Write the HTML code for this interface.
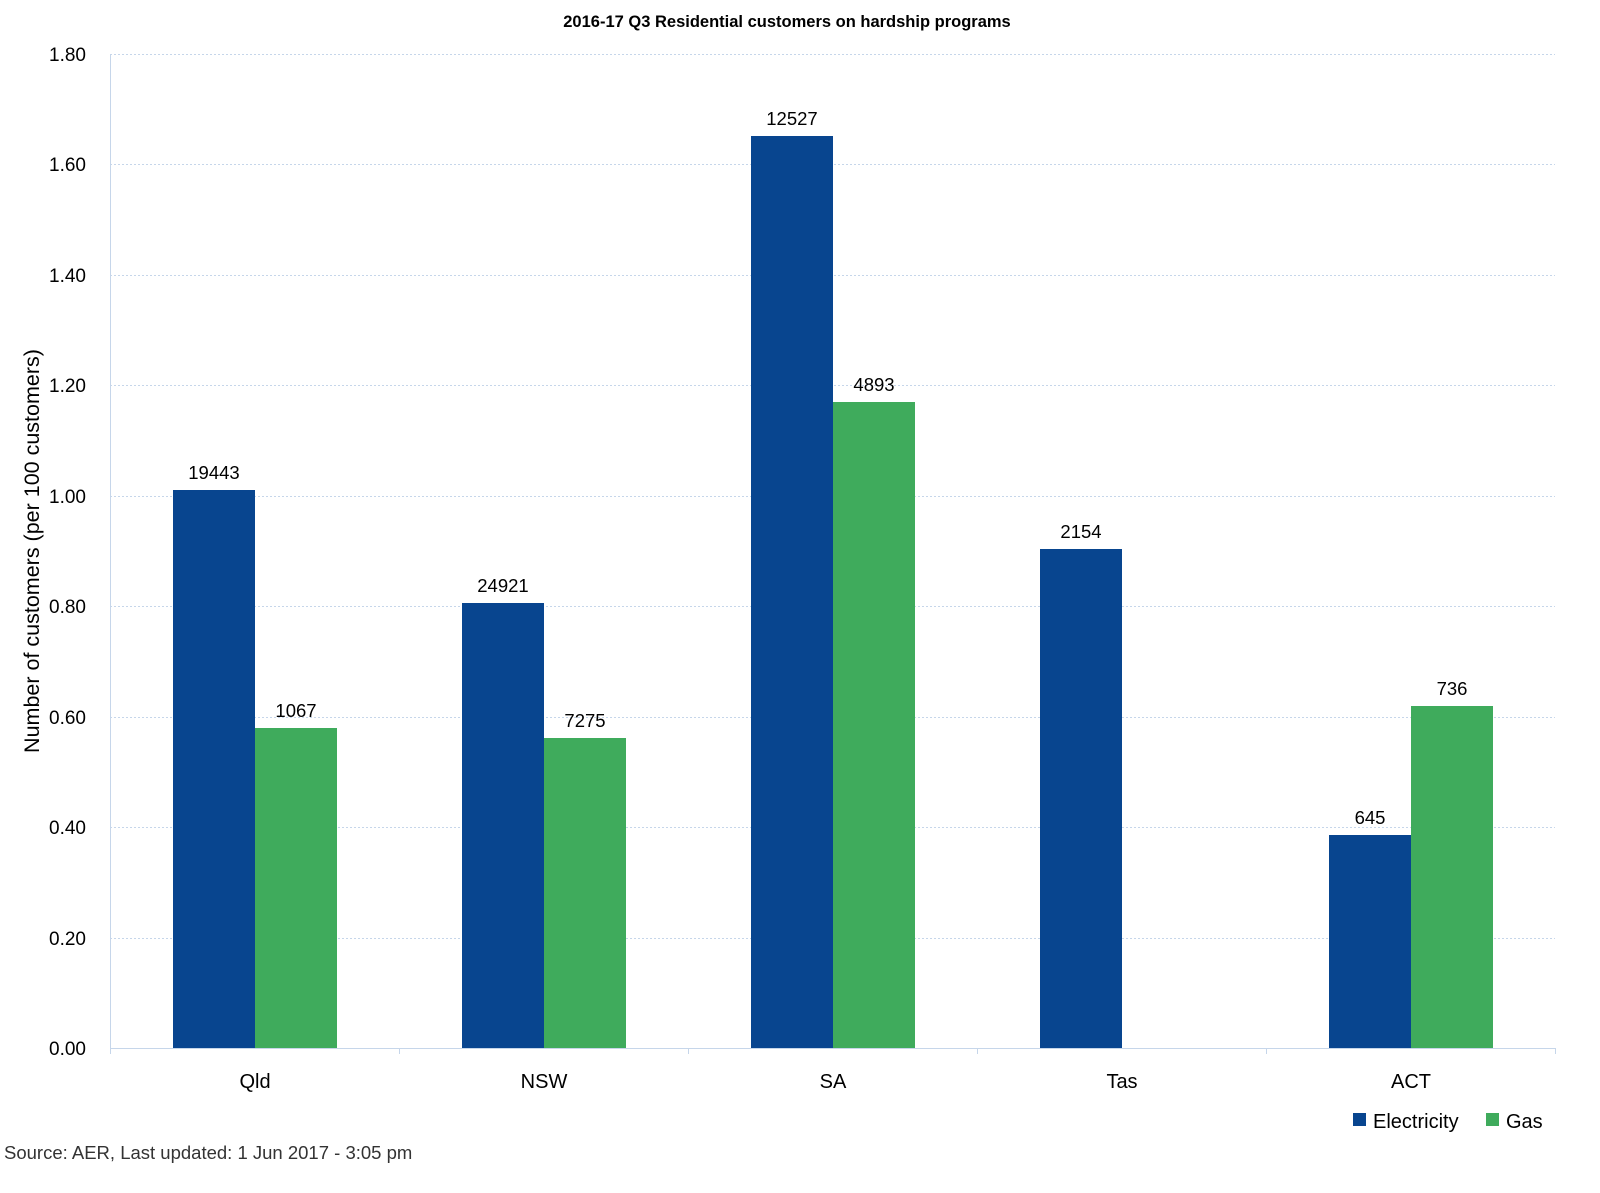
<!DOCTYPE html>
<html><head><meta charset="utf-8"><style>
html,body{margin:0;padding:0;background:#fff;}
text{font-family:"Liberation Sans",sans-serif;fill:#000;}
</style></head><body>
<svg width="1600" height="1188" xmlns="http://www.w3.org/2000/svg">
<text x="787" y="27" text-anchor="middle" font-size="16.5" font-weight="bold">2016-17 Q3 Residential customers on hardship programs</text>
<g stroke="#c6d6ea" stroke-width="1" stroke-dasharray="2,2">
<line x1="110" x2="1555" y1="54.5" y2="54.5"/>
<line x1="110" x2="1555" y1="164.5" y2="164.5"/>
<line x1="110" x2="1555" y1="275.5" y2="275.5"/>
<line x1="110" x2="1555" y1="385.5" y2="385.5"/>
<line x1="110" x2="1555" y1="496.5" y2="496.5"/>
<line x1="110" x2="1555" y1="606.5" y2="606.5"/>
<line x1="110" x2="1555" y1="717.5" y2="717.5"/>
<line x1="110" x2="1555" y1="827.5" y2="827.5"/>
<line x1="110" x2="1555" y1="938.5" y2="938.5"/>
</g>
<g stroke="#c6d6ea" stroke-width="1">
<line x1="110.5" x2="110.5" y1="54" y2="1054"/>
<line x1="110" x2="1555" y1="1048.5" y2="1048.5"/>
<line x1="399.5" x2="399.5" y1="1048" y2="1054"/>
<line x1="688.5" x2="688.5" y1="1048" y2="1054"/>
<line x1="977.5" x2="977.5" y1="1048" y2="1054"/>
<line x1="1266.5" x2="1266.5" y1="1048" y2="1054"/>
<line x1="1555.5" x2="1555.5" y1="1048" y2="1054"/>
</g>
<g font-size="19" text-anchor="end">
<text x="86" y="61">1.80</text><text x="86" y="171">1.60</text><text x="86" y="282">1.40</text>
<text x="86" y="392">1.20</text><text x="86" y="503">1.00</text><text x="86" y="613">0.80</text>
<text x="86" y="724">0.60</text><text x="86" y="834">0.40</text><text x="86" y="945">0.20</text>
<text x="86" y="1055">0.00</text>
</g>
<text transform="translate(39,551) rotate(-90)" text-anchor="middle" font-size="21.5">Number of customers (per 100 customers)</text>
<g fill="#08458f">
<rect x="173" y="490" width="82" height="558"/>
<rect x="462" y="603" width="82" height="445"/>
<rect x="751" y="136" width="82" height="912"/>
<rect x="1040" y="549" width="82" height="499"/>
<rect x="1329" y="835" width="82" height="213"/>
</g>
<g fill="#3fab5c">
<rect x="255" y="728" width="82" height="320"/>
<rect x="544" y="738" width="82" height="310"/>
<rect x="833" y="402" width="82" height="646"/>
<rect x="1411" y="706" width="82" height="342"/>
</g>
<g font-size="18.5" text-anchor="middle">
<text x="214" y="479">19443</text><text x="296" y="717">1067</text>
<text x="503" y="592">24921</text><text x="585" y="727">7275</text>
<text x="792" y="125">12527</text><text x="874" y="391">4893</text>
<text x="1081" y="538">2154</text>
<text x="1370" y="824">645</text><text x="1452" y="695">736</text>
</g>
<g font-size="20" text-anchor="middle">
<text x="255" y="1088">Qld</text><text x="544" y="1088">NSW</text><text x="833" y="1088">SA</text>
<text x="1122" y="1088">Tas</text><text x="1411" y="1088">ACT</text>
</g>
<rect x="1353" y="1113" width="13" height="13" fill="#08458f"/>
<text x="1373" y="1128" font-size="20">Electricity</text>
<rect x="1486" y="1113" width="13" height="13" fill="#3fab5c"/>
<text x="1506" y="1128" font-size="20">Gas</text>
<text x="4" y="1159" font-size="18.5" style="fill:#333">Source: AER, Last updated: 1 Jun 2017 - 3:05 pm</text>
</svg>
</body></html>
